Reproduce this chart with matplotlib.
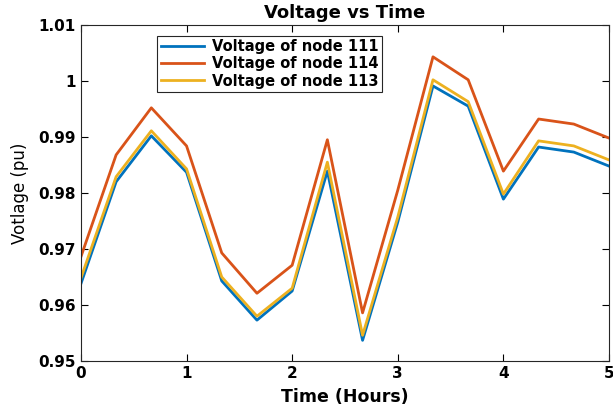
import matplotlib.pyplot as plt
import numpy as np

hours = np.arange(16) / 3.0

v111 = [0.9638, 0.9820, 0.9902, 0.9837, 0.9643, 0.9573, 0.9625, 0.9839,
        0.9537, 0.9748, 0.9991, 0.9955, 0.9789, 0.9882, 0.9873, 0.9848]
v114 = [0.9686, 0.9868, 0.9952, 0.9884, 0.9693, 0.9621, 0.9671, 0.9895,
        0.9586, 0.9805, 1.0043, 1.0002, 0.9839, 0.9932, 0.9923, 0.9898]
v113 = [0.9648, 0.9829, 0.9911, 0.9843, 0.9650, 0.9580, 0.9630, 0.9855,
        0.9546, 0.9757, 1.0002, 0.9963, 0.9798, 0.9893, 0.9884, 0.9859]

plt.rcParams['font.family'] = 'DejaVu Sans'
plt.rcParams['font.weight'] = 'bold'

fig = plt.figure(figsize=(6.13, 4.15), dpi=100)
ax = fig.add_axes([0.132, 0.130, 0.8615, 0.810])

ax.plot(hours, v111, color='#0072BD', lw=2.0, label='Voltage of node 111')
ax.plot(hours, v114, color='#D95319', lw=2.0, label='Voltage of node 114')
ax.plot(hours, v113, color='#EDB120', lw=2.0, label='Voltage of node 113')

ax.set_xlim(0, 5)
ax.set_ylim(0.95, 1.01)
ax.set_xticks([0, 1, 2, 3, 4, 5])
ax.set_yticks([0.95, 0.96, 0.97, 0.98, 0.99, 1.0, 1.01])
ax.set_yticklabels(['0.95', '0.96', '0.97', '0.98', '0.99', '1', '1.01'])
ax.tick_params(direction='in', top=True, right=True, labelsize=11, length=5, width=0.8)
for s in ax.spines.values():
    s.set_linewidth(0.8)
    s.set_color('#262626')

ax.set_title('Voltage vs Time', fontsize=13, fontweight='bold', pad=5)
ax.set_xlabel('Time (Hours)', fontsize=12.5, fontweight='bold', labelpad=5)
ax.set_ylabel('Votlage (pu)', fontsize=12, fontweight='normal', labelpad=7)

leg = ax.legend(loc='upper left', bbox_to_anchor=(0.13, 0.99), fontsize=10.5,
                fancybox=False, framealpha=1, edgecolor='#262626',
                handlelength=3.0, borderpad=0.25, labelspacing=0.15, handletextpad=0.5)
leg.get_frame().set_linewidth(0.8)

fig.savefig('out.png', dpi=100)
